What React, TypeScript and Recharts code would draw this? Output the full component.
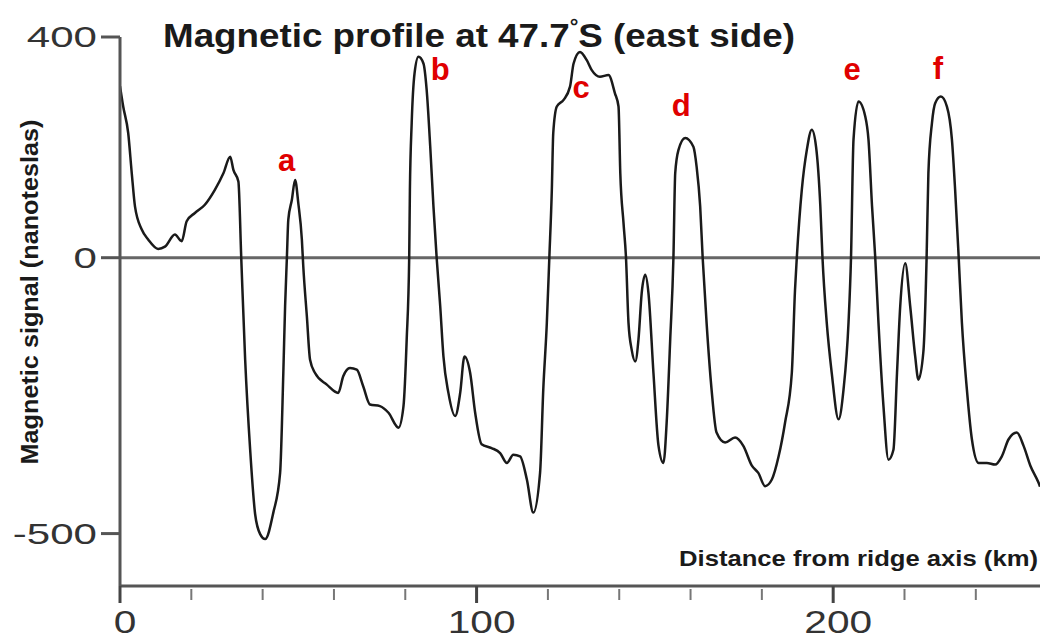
import { LineChart, Line, XAxis, YAxis, ReferenceLine, ReferenceDot } from 'recharts';

// distance from ridge axis (km) and magnetic signal (nT)
const distanceKm = [
  0, 0.9, 2.3, 3.3, 4.2, 6.1, 7.9, 10.7, 12.6, 15.4, 17.3, 18.7, 21.0, 23.8, 26.6, 29.0, 30.9, 31.8, 33.2,
  34.0, 35.1, 36.5, 37.9, 39.3, 40.7, 43.0, 44.9, 45.8, 46.3, 46.8, 47.2, 48.2, 49.1, 50.0, 51.0, 51.4,
  52.4, 53.3, 54.7, 58.0, 61.2, 62.6, 64.5, 66.4, 68.2, 70.1, 72.9, 75.3, 78.1, 79.5, 80.4, 81.1, 81.3,
  81.8, 82.6, 83.7, 85.1, 86.0, 87.0, 87.9, 88.8, 89.8, 90.7, 92.1, 94.0, 95.4, 96.6, 98.2, 99.6, 101.4,
  104.2, 106.6, 108.5, 110.3, 112.2, 114.1, 115.9, 117.8, 118.7, 119.7, 120.4, 121.1, 121.5, 122.5, 124.4,
  126.2, 127.2, 129.0, 130.9, 132.3, 134.6, 137.0, 138.8, 139.8, 140.3, 141.2, 141.9, 142.6, 143.5, 144.5,
  145.4, 146.3, 147.3, 148.2, 149.6, 151.0, 152.4, 153.3, 154.3, 155.2, 155.7, 156.6, 158.5, 160.8, 161.7,
  162.7, 163.4, 164.5, 165.9, 167.3, 169.7, 172.5, 174.8, 177.2, 179.0, 180.9, 182.8, 184.7, 186.5, 188.4,
  189.3, 189.8, 191.2, 192.6, 194.0, 195.2, 196.4, 197.0, 198.2, 199.6, 201.5, 202.9, 204.3, 205.0, 205.7,
  207.1, 209.0, 209.9, 210.9, 211.8, 212.7, 214.1, 215.5, 216.9, 217.9, 218.8, 220.2, 221.6, 223.0, 223.9,
  225.3, 226.2, 226.7, 227.7, 228.6, 230.2, 231.9, 233.3, 234.2, 235.2, 236.1, 237.5, 238.9, 240.8, 243.1,
  245.4, 247.3, 249.2, 251.5, 253.4, 255.3, 257.6, 258,
];
const signalNt = [
  311, 274, 226, 153, 93, 51, 33, 16, 20, 42, 30, 66, 81, 96, 123, 153, 183, 159, 138,
  0, -185, -348, -465, -501, -510, -462, -390, -209, -88, 0, 69, 105, 141, 99, 33, -16,
  -106, -185, -209, -230, -245, -215, -200, -203, -233, -266, -269, -281, -308, -269, -148, 0, 123,
  244, 334, 364, 352, 304, 201, 93, 0, -88, -179, -245, -287, -245, -179, -209, -281, -338,
  -345, -354, -372, -357, -360, -402, -462, -390, -239, -118, 0, 123, 226, 274, 286,
  310, 352, 373, 358, 340, 328, 331, 298, 274, 153, 63, 0, -118, -167, -188,
  -148, -64, -31, -64, -209, -340, -372, -299, -148, 0, 153, 195, 217, 201, 165,
  93, 0, -118, -239, -317, -335, -326, -341, -377, -390, -414, -402, -360, -299, -209,
  -58, 0, 123, 195, 232, 201, 93, 0, -118, -209, -293, -239, -118, 0, 214,
  283, 256, 214, 93, 0, -118, -269, -366, -348, -209, -88, -10, -88, -179, -221,
  -170, 0, 153, 244, 280, 292, 274, 214, 123, 0, -118, -239, -329, -372, -372,
  -375, -360, -329, -317, -341, -377, -408, -415,
];

// red anomaly letters and where they sit
const peakLetters = ['a', 'b', 'c', 'd', 'e', 'f'];
const letterKm = [46.7, 89.8, 129.3, 157.4, 205.3, 229.4];
const letterNt = [157, 322, 290, 257, 322, 324];

const xTicks = [0, 20, 40, 60, 80, 100, 120, 140, 160, 180, 200, 220, 240];
const yTicks = [-500, 0, 400];

const data = distanceKm.map((km, i) => ({ km, nt: signalNt[i] }));

const XTick = ({ x, y, payload }: any) => {
  const major = payload.value % 100 === 0;
  return (
    <g>
      <line
        x1={x}
        x2={x}
        y1={major ? y : y + 3}
        y2={major ? y + 17 : y + 14}
        stroke={major ? '#444' : '#777'}
        strokeWidth={major ? 3 : 2}
      />
      {major && (
        <text
          transform={`translate(${x + 5},${y + 47}) scale(1.45,1.15)`}
          textAnchor="middle"
          fontFamily="Liberation Sans, Arial, sans-serif"
          fontSize={28}
          fill="#333"
        >
          {payload.value}
        </text>
      )}
    </g>
  );
};

const YTick = ({ x, y, payload }: any) => (
  <g>
    <line x1={x - 19} x2={x} y1={y} y2={y} stroke="#555" strokeWidth={3} />
    <text
      transform={`translate(${x - 23},${y + 10}) scale(1.45,1)`}
      textAnchor="end"
      fontFamily="Liberation Sans, Arial, sans-serif"
      fontSize={29}
      fill="#333"
    >
      {payload.value}
    </text>
  </g>
);

const LetterMark = (props: any) => (
  <text
    x={props.cx}
    y={props.cy}
    textAnchor="middle"
    fontFamily="Liberation Sans, Arial, sans-serif"
    fontWeight="bold"
    fontSize={31}
    fill="#e00000"
  >
    {props.letter}
  </text>
);

export default function App() {
  return (
    <div style={{ position: 'absolute', left: 0, top: 0, width: 1040, height: 640, background: '#fff' }}>
      <LineChart width={1040} height={640} data={data} margin={{ top: 37, right: 0, bottom: 0, left: 0 }}>
        <XAxis
          type="number"
          dataKey="km"
          domain={[0, 258]}
          ticks={xTicks}
          tick={<XTick />}
          tickSize={0}
          tickMargin={0}
          height={54}
          axisLine={{ stroke: '#555', strokeWidth: 3 }}
          allowDataOverflow
        />
        <YAxis
          type="number"
          domain={[-595, 400]}
          ticks={yTicks}
          tick={<YTick />}
          tickSize={0}
          tickMargin={0}
          width={120}
          axisLine={{ stroke: '#555', strokeWidth: 3 }}
          allowDataOverflow
        />
        <ReferenceLine y={0} stroke="#666" strokeWidth={3} />
        <Line
          type="monotone"
          dataKey="nt"
          stroke="#1a1a1a"
          strokeWidth={2.5}
          dot={false}
          isAnimationActive={false}
        />
        {peakLetters.map((l, i) => (
          <ReferenceDot
            key={l}
            x={letterKm[i]}
            y={letterNt[i]}
            r={0}
            shape={(p: any) => <LetterMark {...p} letter={l} />}
          />
        ))}
        <text
          x={163}
          y={47}
          textLength={632}
          lengthAdjust="spacingAndGlyphs"
          fontFamily="Liberation Sans, Arial, sans-serif"
          fontWeight="bold"
          fontSize={34}
          fill="#1a1a1a"
        >
          Magnetic profile at 47.7<tspan fontSize={20} dy={-14}>°</tspan><tspan dy={14}>S (east side)</tspan>
        </text>
        <text
          transform="translate(38,292) rotate(-90)"
          textAnchor="middle"
          textLength={345}
          lengthAdjust="spacingAndGlyphs"
          fontFamily="Liberation Sans, Arial, sans-serif"
          fontWeight="bold"
          fontSize={23}
          fill="#1a1a1a"
        >
          Magnetic signal (nanoteslas)
        </text>
        <text
          x={679}
          y={566}
          textLength={359}
          lengthAdjust="spacingAndGlyphs"
          fontFamily="Liberation Sans, Arial, sans-serif"
          fontWeight="bold"
          fontSize={22}
          fill="#1a1a1a"
        >
          Distance from ridge axis (km)
        </text>
      </LineChart>
    </div>
  );
}
